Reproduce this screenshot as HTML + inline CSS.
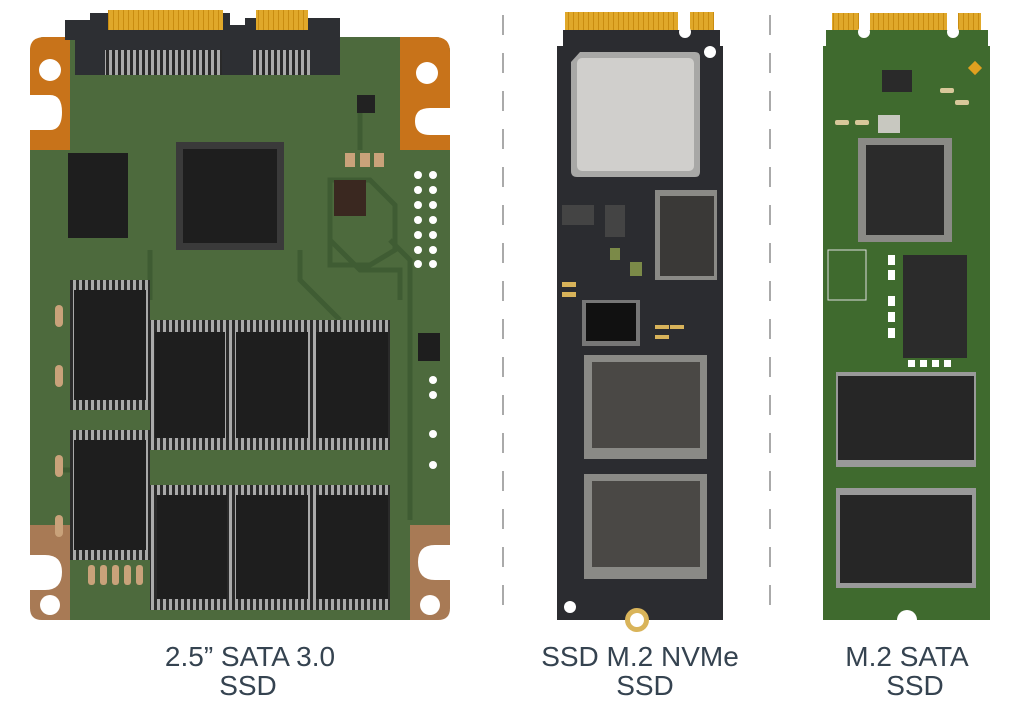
<!DOCTYPE html>
<html><head><meta charset="utf-8"><style>
html,body{margin:0;padding:0;background:#fff;}
svg{display:block}
text{font-family:"Liberation Sans",sans-serif;fill:#354350;font-size:28px;text-anchor:middle}
</style></head><body>
<svg width="1024" height="707" viewBox="0 0 1024 707" xmlns="http://www.w3.org/2000/svg">
<defs>
<pattern id="pins" width="6" height="10" patternUnits="userSpaceOnUse"><rect width="6" height="10" fill="#2a2a2a"/><rect x="1" width="3" height="10" fill="#aaa"/></pattern>
<pattern id="gold" width="5" height="10" patternUnits="userSpaceOnUse"><rect width="5" height="10" fill="#e0a82a"/><rect x="3" width="1" height="10" fill="#c98c10"/></pattern>
</defs>
<line x1="503" y1="15" x2="503" y2="620" stroke="#aaa" stroke-width="2" stroke-dasharray="20,18"/>
<line x1="770" y1="15" x2="770" y2="620" stroke="#aaa" stroke-width="2" stroke-dasharray="20,18"/>

<!-- 2.5 SATA -->
<rect x="30" y="37" width="420" height="583" rx="14" fill="#4d6a3d"/>
<g fill="none" stroke="#3f5c33" stroke-width="5">
<path d="M300 250 L300 280 L340 320 M330 200 L330 240 L360 270 L400 270 L400 300 M150 250 L150 300 M390 240 L410 260 L410 520 M120 470 L60 470 M360 110 L360 150"/>
<path d="M330 180 L370 180 L395 205 L395 250 L370 265 L330 265 Z"/>
</g>
<path d="M30 50 Q30 37 45 37 L70 37 L70 150 L30 150 Z" fill="#c8731a"/>
<path d="M400 37 L435 37 Q450 37 450 52 L450 150 L400 150 Z" fill="#c8731a"/>
<path d="M30 525 L70 525 L70 620 L42 620 Q30 620 30 608 Z" fill="#a87a55"/>
<path d="M410 525 L450 525 L450 608 Q450 620 438 620 L410 620 Z" fill="#a87a55"/>
<circle cx="50" cy="70" r="11" fill="#fff"/><circle cx="427" cy="73" r="11" fill="#fff"/>
<circle cx="50" cy="605" r="10" fill="#fff"/><circle cx="430" cy="605" r="10" fill="#fff"/>
<path d="M30 95 L50 95 Q62 95 62 112 Q62 130 50 130 L30 130 Z" fill="#fff"/>
<path d="M450 108 L430 108 Q415 108 415 121 Q415 135 430 135 L450 135 Z" fill="#fff"/>
<path d="M30 555 L45 555 Q62 555 62 572 Q62 590 45 590 L30 590 Z" fill="#fff"/>
<path d="M450 545 L435 545 Q418 545 418 562 Q418 580 435 580 L450 580 Z" fill="#fff"/>
<path d="M65 20 L90 20 L90 13 L230 13 L230 25 L245 25 L245 18 L340 18 L340 75 L75 75 L75 40 L65 40 Z" fill="#2d2f33"/>
<rect x="108" y="10" width="115" height="20" fill="url(#gold)"/>
<rect x="256" y="10" width="52" height="20" fill="url(#gold)"/>
<rect x="105" y="50" width="117" height="25" fill="url(#pins)"/>
<rect x="252" y="50" width="58" height="25" fill="url(#pins)"/>
<rect x="176" y="142" width="108" height="108" fill="#3a3a3a"/><rect x="183" y="149" width="94" height="94" fill="#1e1e1e"/>
<rect x="68" y="153" width="60" height="85" fill="#1e1e1e"/>
<rect x="334" y="180" width="32" height="36" fill="#3a2820"/>
<rect x="357" y="95" width="18" height="18" fill="#222"/>
<rect x="70" y="280" width="80" height="130" fill="url(#pins)"/><rect x="74" y="290" width="72" height="110" fill="#1e1e1e"/>
<rect x="70" y="430" width="80" height="130" fill="url(#pins)"/><rect x="74" y="440" width="72" height="110" fill="#1e1e1e"/>
<rect x="150" y="320" width="240" height="130" fill="url(#pins)"/>
<rect x="155" y="332" width="70" height="106" fill="#1e1e1e"/><rect x="236" y="332" width="72" height="106" fill="#1e1e1e"/><rect x="316" y="332" width="72" height="106" fill="#1e1e1e"/>
<rect x="150" y="485" width="240" height="125" fill="url(#pins)"/>
<rect x="157" y="495" width="70" height="104" fill="#1e1e1e"/><rect x="236" y="495" width="72" height="104" fill="#1e1e1e"/><rect x="316" y="495" width="72" height="104" fill="#1e1e1e"/>
<rect x="418" y="333" width="22" height="28" fill="#1e1e1e"/>
<g fill="#fff"><circle cx="418" cy="175" r="4"/><circle cx="433" cy="175" r="4"/><circle cx="418" cy="190" r="4"/><circle cx="433" cy="190" r="4"/><circle cx="418" cy="205" r="4"/><circle cx="433" cy="205" r="4"/><circle cx="418" cy="220" r="4"/><circle cx="433" cy="220" r="4"/><circle cx="418" cy="235" r="4"/><circle cx="433" cy="235" r="4"/><circle cx="418" cy="250" r="4"/><circle cx="433" cy="250" r="4"/><circle cx="418" cy="264" r="4"/><circle cx="433" cy="264" r="4"/>
<circle cx="433" cy="434" r="4"/><circle cx="433" cy="465" r="4"/><circle cx="433" cy="380" r="4"/><circle cx="433" cy="395" r="4"/></g>
<g fill="#c9a27a"><rect x="345" y="153" width="10" height="14"/><rect x="360" y="153" width="10" height="14"/><rect x="374" y="153" width="10" height="14"/>
<rect x="55" y="305" width="8" height="22" rx="4"/><rect x="55" y="365" width="8" height="22" rx="4"/><rect x="55" y="455" width="8" height="22" rx="4"/><rect x="55" y="515" width="8" height="22" rx="4"/>
<rect x="88" y="565" width="7" height="20" rx="3"/><rect x="100" y="565" width="7" height="20" rx="3"/><rect x="112" y="565" width="7" height="20" rx="3"/><rect x="124" y="565" width="7" height="20" rx="3"/><rect x="136" y="565" width="7" height="20" rx="3"/></g>

<!-- NVMe -->
<path d="M557 46 L563 46 L563 30 L720 30 L720 46 L723 46 L723 620 L557 620 Z" fill="#2b2c30"/>
<rect x="565" y="12" width="113" height="18" fill="url(#gold)"/>
<rect x="690" y="12" width="24" height="18" fill="url(#gold)"/>
<circle cx="685" cy="32" r="6" fill="#fff"/>
<circle cx="710" cy="52" r="6" fill="#fff"/><circle cx="570" cy="607" r="6" fill="#fff"/>
<circle cx="637" cy="620" r="12" fill="#d9b45a"/><circle cx="637" cy="620" r="7" fill="#fff"/>
<path d="M580 52 L695 52 Q700 52 700 57 L700 172 Q700 177 695 177 L577 177 Q571 177 571 171 L571 62 Z" fill="#a8a8a6"/>
<rect x="577" y="58" width="117" height="113" rx="5" fill="#d0cfcc"/>
<rect x="655" y="190" width="62" height="90" fill="#8a8a86"/><rect x="660" y="196" width="54" height="80" fill="#3a3937"/>
<rect x="584" y="355" width="123" height="104" fill="#8a8a86"/><rect x="592" y="362" width="108" height="86" fill="#4a4845"/>
<rect x="584" y="474" width="123" height="105" fill="#8a8a86"/><rect x="592" y="481" width="108" height="86" fill="#4a4845"/>
<rect x="582" y="300" width="58" height="46" fill="#777"/><rect x="586" y="303" width="50" height="38" fill="#111"/>
<rect x="562" y="205" width="32" height="20" fill="#444"/><rect x="605" y="205" width="20" height="32" fill="#444"/>
<g fill="#7b8a48"><rect x="610" y="248" width="10" height="12"/><rect x="630" y="262" width="12" height="14"/></g>
<g fill="#d8b35a"><rect x="562" y="282" width="14" height="5"/><rect x="562" y="292" width="14" height="5"/><rect x="655" y="325" width="14" height="4"/><rect x="655" y="335" width="14" height="4"/><rect x="670" y="325" width="14" height="4"/></g>

<!-- M.2 SATA -->
<path d="M823 46 L826 46 L826 30 L988 30 L988 46 L990 46 L990 620 L823 620 Z" fill="#3f6a2e"/>
<rect x="832" y="13" width="27" height="17" fill="url(#gold)"/>
<rect x="870" y="13" width="77" height="17" fill="url(#gold)"/>
<rect x="958" y="13" width="23" height="17" fill="url(#gold)"/>
<circle cx="864" cy="32" r="6" fill="#fff"/><circle cx="953" cy="32" r="6" fill="#fff"/>
<circle cx="907" cy="620" r="10" fill="#fff"/>
<rect x="970" y="63" width="10" height="10" fill="#e0a020" transform="rotate(45 975 68)"/>
<rect x="882" y="70" width="30" height="22" fill="#2a2a2a"/>
<rect x="858" y="138" width="94" height="104" fill="#8a8a86"/><rect x="866" y="145" width="78" height="90" fill="#2b2b2b"/>
<rect x="903" y="255" width="64" height="103" fill="#2b2b2b"/>
<rect x="836" y="372" width="140" height="95" fill="#999"/><rect x="838" y="376" width="136" height="84" fill="#262626"/>
<rect x="836" y="488" width="140" height="100" fill="#999"/><rect x="840" y="495" width="132" height="88" fill="#262626"/>
<rect x="878" y="115" width="22" height="18" fill="#c8c8c0"/>
<rect x="828" y="250" width="38" height="50" fill="none" stroke="#ddd" stroke-width="1"/>
<g fill="#fff"><rect x="888" y="255" width="7" height="10"/><rect x="888" y="270" width="7" height="10"/><rect x="888" y="296" width="7" height="10"/><rect x="888" y="312" width="7" height="10"/><rect x="888" y="328" width="7" height="10"/><rect x="908" y="360" width="7" height="7"/><rect x="920" y="360" width="7" height="7"/><rect x="932" y="360" width="7" height="7"/><rect x="944" y="360" width="7" height="7"/></g>
<g fill="#d8c89a"><rect x="940" y="88" width="14" height="5" rx="2"/><rect x="955" y="100" width="14" height="5" rx="2"/><rect x="835" y="120" width="14" height="5" rx="2"/><rect x="855" y="120" width="14" height="5" rx="2"/></g>

<text x="250" y="666">2.5” SATA 3.0</text>
<text x="248" y="695">SSD</text>
<text x="640" y="666">SSD M.2 NVMe</text>
<text x="645" y="695">SSD</text>
<text x="907" y="666">M.2 SATA</text>
<text x="915" y="695">SSD</text>
</svg>
</body></html>
